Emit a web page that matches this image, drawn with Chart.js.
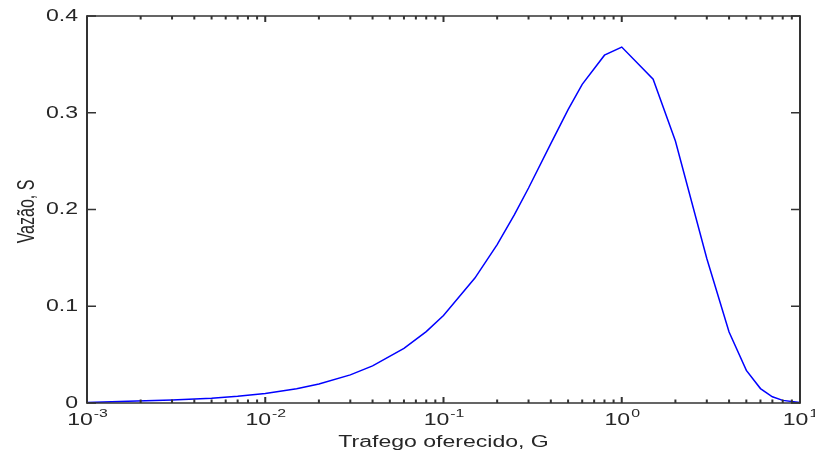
<!DOCTYPE html>
<html>
<head>
<meta charset="utf-8">
<script src="https://cdn.jsdelivr.net/npm/chart.js@4/dist/chart.umd.min.js"></script>
<style>
  html, body { margin: 0; padding: 0; background: #fff; }
  canvas { display: block; }
</style>
</head>
<body>
<canvas id="c" width="815" height="451"></canvas>
<script>
// Offered traffic G (x) and throughput S (y)
const trafficG = [0.001, 0.0017, 0.003, 0.005, 0.007, 0.01, 0.015, 0.02, 0.03, 0.04, 0.06, 0.08,
                  0.1, 0.15, 0.2, 0.25, 0.3, 0.4, 0.5, 0.6, 0.8, 1, 1.5, 2, 3, 4, 5, 6, 7, 8, 10];
const throughputS = [0.0005, 0.0017, 0.003, 0.005, 0.007, 0.0099, 0.0148, 0.0196, 0.0291, 0.0384, 0.0565, 0.0738,
                     0.0905, 0.1291, 0.1637, 0.1947, 0.2222, 0.2681, 0.3033, 0.3293, 0.3595, 0.3679, 0.3347, 0.2707,
                     0.1494, 0.0733, 0.0337, 0.0149, 0.0064, 0.0027, 0.0005];
const yTicks = [0, 0.1, 0.2, 0.3, 0.4];
const yTickLabels = ["0", "0.1", "0.2", "0.3", "0.4"];
const xDecades = [0.001, 0.01, 0.1, 1, 10];
const xDecadeExp = ["-3", "-2", "-1", "0", "1"];
const xTitle = "Trafego oferecido, G";
const yTitle = "Vazão, S";

const SX = 1.44;              // horizontal stretch of the text in the reference
const FONT = 'Arial, "Liberation Sans", Helvetica, sans-serif';
const TEXT_COLOR = '#262626';
const AXIS_COLOR = '#333333';

function stretchedText(ctx, text, x, y, font, align, baseline) {
  ctx.save();
  ctx.font = font;
  ctx.textAlign = align;
  ctx.textBaseline = baseline;
  ctx.translate(x, y);
  ctx.scale(SX, 1);
  ctx.fillText(text, 0, 0);
  ctx.restore();
}

const matlabAxes = {
  id: 'matlabAxes',
  afterDraw(chart) {
    const ctx = chart.ctx;
    const xs = chart.scales.x, ys = chart.scales.y;
    const a = chart.chartArea;
    ctx.save();
    ctx.strokeStyle = AXIS_COLOR;
    ctx.lineCap = 'butt';
    // box
    ctx.lineWidth = 1.5;
    ctx.beginPath();
    ctx.moveTo(a.left, a.top); ctx.lineTo(a.right, a.top);
    ctx.moveTo(a.left, a.bottom); ctx.lineTo(a.right, a.bottom);
    ctx.stroke();
    ctx.lineWidth = 2;
    ctx.beginPath();
    ctx.moveTo(a.left, a.top - 0.75); ctx.lineTo(a.left, a.bottom + 0.75);
    ctx.moveTo(a.right, a.top - 0.75); ctx.lineTo(a.right, a.bottom + 0.75);
    ctx.stroke();

    // y ticks (inward, both sides)
    ctx.lineWidth = 1.5;
    ctx.beginPath();
    yTicks.forEach(v => {
      const py = ys.getPixelForValue(v);
      ctx.moveTo(a.left, py); ctx.lineTo(a.left + 9, py);
      ctx.moveTo(a.right, py); ctx.lineTo(a.right - 9, py);
    });
    ctx.stroke();

    // x ticks: majors and log minors (inward, bottom and top)
    ctx.lineWidth = 2;
    ctx.beginPath();
    xDecades.forEach((d, i) => {
      const px = xs.getPixelForValue(d);
      ctx.moveTo(px, a.bottom); ctx.lineTo(px, a.bottom - 6);
      ctx.moveTo(px, a.top); ctx.lineTo(px, a.top + 6);
      if (i < xDecades.length - 1) {
        for (let m = 2; m <= 9; m++) {
          const q = xs.getPixelForValue(d * m);
          ctx.moveTo(q, a.bottom); ctx.lineTo(q, a.bottom - 3.5);
          ctx.moveTo(q, a.top); ctx.lineTo(q, a.top + 3.5);
        }
      }
    });
    ctx.stroke();

    // y tick labels
    ctx.fillStyle = TEXT_COLOR;
    const mainFont = '16px ' + FONT;
    const supFont = '11px ' + FONT;
    yTicks.forEach((v, i) => {
      const py = ys.getPixelForValue(v);
      stretchedText(ctx, yTickLabels[i], a.left - 9, py + 0.5, mainFont, 'right', 'middle');
    });

    // x tick labels: 10 with superscript exponent
    xDecades.forEach((d, i) => {
      const px = xs.getPixelForValue(d);
      ctx.font = mainFont;
      const wb = ctx.measureText('10').width * SX;
      ctx.font = supFont;
      const ws = ctx.measureText(xDecadeExp[i]).width * SX;
      const start = px - (wb + ws) / 2;
      stretchedText(ctx, '10', start, a.bottom + 22, mainFont, 'left', 'alphabetic');
      stretchedText(ctx, xDecadeExp[i], start + wb + 1, a.bottom + 14, supFont, 'left', 'alphabetic');
    });

    // x axis title
    stretchedText(ctx, xTitle, (a.left + a.right) / 2, a.bottom + 44, mainFont, 'center', 'alphabetic');

    // y axis title (rotated, glyph height stretched horizontally)
    ctx.save();
    ctx.font = mainFont;
    ctx.textAlign = 'center';
    ctx.textBaseline = 'alphabetic';
    ctx.translate(34, (a.top + a.bottom) / 2 + 2);
    ctx.rotate(-Math.PI / 2);
    ctx.scale(1, SX);
    ctx.fillText(yTitle, 0, 0);
    ctx.restore();

    ctx.restore();
  }
};

new Chart(document.getElementById('c'), {
  type: 'line',
  data: {
    datasets: [{
      data: trafficG.map((g, i) => ({ x: g, y: throughputS[i] })),
      borderColor: '#0000ff',
      borderWidth: 1.5,
      pointRadius: 0,
      fill: false,
      tension: 0
    }]
  },
  options: {
    responsive: false,
    animation: false,
    devicePixelRatio: 1,
    layout: { padding: { left: 87, right: 15, top: 16, bottom: 48 } },
    plugins: { legend: { display: false }, tooltip: { enabled: false }, title: { display: false } },
    scales: {
      x: {
        type: 'logarithmic', min: 0.001, max: 10,
        ticks: { display: false }, grid: { display: false }, border: { display: false },
        afterFit(s) { s.height = 0; }
      },
      y: {
        type: 'linear', min: 0, max: 0.4,
        ticks: { display: false }, grid: { display: false }, border: { display: false },
        afterFit(s) { s.width = 0; }
      }
    }
  },
  plugins: [matlabAxes]
});
</script>
</body>
</html>
